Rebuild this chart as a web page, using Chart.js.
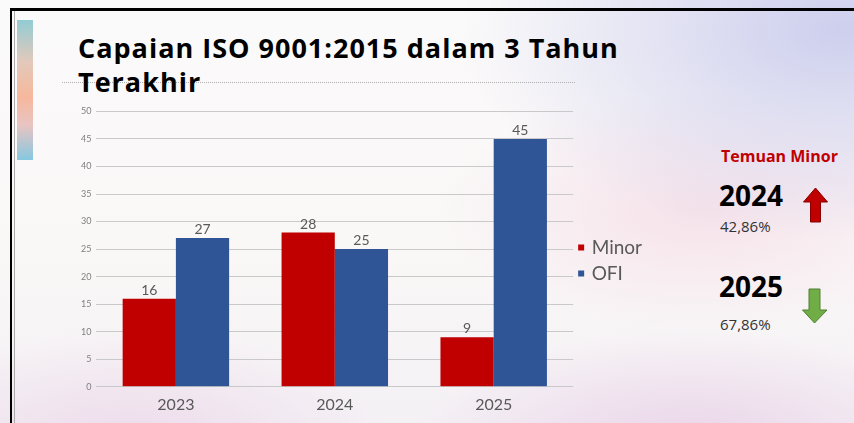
<!DOCTYPE html>
<html>
<head>
<meta charset="utf-8">
<script src="https://cdn.jsdelivr.net/npm/chart.js@4"></script>
<style>
  html, body { margin: 0; padding: 0; }
  body {
    width: 854px; height: 423px; overflow: hidden; position: relative;
    font-family: "Open Sans", sans-serif;
    background:
      radial-gradient(ellipse 260px 110px at 130px 440px, rgba(232,205,228,0.6), rgba(255,255,255,0) 100%),
      radial-gradient(ellipse 280px 110px at 690px 440px, rgba(228,195,225,0.6), rgba(255,255,255,0) 100%),
      radial-gradient(ellipse 380px 210px at 840px 30px, rgba(200,202,236,0.9), rgba(255,255,255,0) 100%),
      radial-gradient(ellipse 260px 120px at 700px 210px, rgba(242,208,222,0.55), rgba(255,255,255,0) 100%),
      linear-gradient(180deg, #fbfafa 0%, #faf7f7 60%, #f4f1f5 100%);
  }
  .frame-top { position: absolute; left: 10px; top: 8px; width: 844px; height: 3px; background: #000; }
  .frame-left { position: absolute; left: 10px; top: 8px; width: 2px; height: 415px; background: #000; }
  .frame-left2 { position: absolute; left: 14px; top: 11px; width: 1px; height: 412px; background: #aaa; }
  .accent {
    position: absolute; left: 17px; top: 20px; width: 16px; height: 140px;
    background: linear-gradient(180deg, #92ccd4 0%, #e3c9bb 30%, #f6b89c 55%, #e9c4c2 75%, #86c8e0 100%);
  }
  .title-rule { position: absolute; left: 62px; top: 82px; width: 513px; border-top: 1px dotted #b0b0b0; }
  .title {
    position: absolute; left: 78px; top: 31px; font-size: 27px; font-weight: 700;
    line-height: 34px; color: #000; letter-spacing: 1px;
  }
  #wrap { position: absolute; left: 76px; top: 101px; width: 576px; height: 313px; }
  .side { position: absolute; font-family: "Open Sans", sans-serif; white-space: nowrap; }
  .temuan { left: 721px; top: 145px; font-size: 16px; font-weight: 700; color: #c00000; }
  .year { font-size: 28px; font-weight: 700; color: #000; }
  .pct { font-size: 15px; color: #333; }
  svg.arrow { position: absolute; }
</style>
</head>
<body>
<div class="frame-top"></div>
<div class="frame-left"></div>
<div class="frame-left2"></div>
<div class="accent"></div>
<div class="title-rule"></div>
<div class="title">Capaian ISO 9001:2015 dalam 3 Tahun<br>Terakhir</div>
<div id="wrap"><canvas id="isoChart"></canvas></div>

<div class="side temuan">Temuan Minor</div>
<div class="side year" style="left:719px; top:176px;">2024</div>
<div class="side pct" style="left:720px; top:216px;">42,86%</div>
<div class="side year" style="left:719px; top:267px;">2025</div>
<div class="side pct" style="left:720px; top:314px;">67,86%</div>

<svg class="arrow" style="left:802px; top:187px;" width="27" height="37" viewBox="0 0 27 37">
  <polygon points="13.5,1 25.5,15 18.5,15 18.5,35 8.5,35 8.5,15 1.5,15" fill="#c00000" stroke="#8a0000" stroke-width="1"/>
</svg>
<svg class="arrow" style="left:802px; top:288px;" width="27" height="37" viewBox="0 0 27 37">
  <polygon points="7,1 18,1 18,22 25,22 12.5,35 0.5,22 7,22" fill="#70ad47" stroke="#507e32" stroke-width="1"/>
</svg>

<script>
// data
const years = ['2023', '2024', '2025'];
const minorValues = [16, 28, 9];
const ofiValues = [27, 25, 45];
const yTicks = [0, 5, 10, 15, 20, 25, 30, 35, 40, 45, 50];

// angka di atas batang
const barValues = {
  id: 'barValues',
  afterDatasetsDraw(chart) {
    const ctx = chart.ctx;
    ctx.save();
    ctx.font = '14px Lato, "Open Sans", sans-serif';
    ctx.fillStyle = '#595959';
    ctx.textAlign = 'center';
    ctx.textBaseline = 'alphabetic';
    chart.data.datasets.forEach(function(ds, i) {
      chart.getDatasetMeta(i).data.forEach(function(bar, j) {
        ctx.fillText(ds.data[j], bar.x, bar.y - 4);
      });
    });
    ctx.restore();
  }
};

document.addEventListener('DOMContentLoaded', function() {
  const ctx = document.getElementById('isoChart').getContext('2d');
  new Chart(ctx, {
    type: 'bar',
    data: {
      labels: years,
      datasets: [
        {
          label: 'Minor',
          data: minorValues,
          backgroundColor: '#c00000',
          borderWidth: 0
        },
        {
          label: 'OFI',
          data: ofiValues,
          backgroundColor: '#2f5597',
          borderWidth: 0
        }
      ]
    },
    options: {
      responsive: true,
      maintainAspectRatio: false,
      animation: false,
      layout: { padding: { top: 6, right: 0, left: 0, bottom: 0 } },
      datasets: {
        bar: { categoryPercentage: 0.67, barPercentage: 1.0 }
      },
      plugins: {
        tooltip: { enabled: false },
        legend: {
          position: 'right',
          labels: {
            usePointStyle: true,
            pointStyle: 'rect',
            boxWidth: 2,
            boxHeight: 6,
            padding: 7,
            color: '#595959',
            font: { family: 'Lato, "Open Sans", sans-serif', size: 19 }
          }
        }
      },
      scales: {
        x: {
          grid: { display: false },
          border: { display: false },
          ticks: {
            color: '#595959',
            padding: 0,
            font: { family: 'Lato, "Open Sans", sans-serif', size: 16 }
          }
        },
        y: {
          min: 0,
          max: 50,
          afterBuildTicks(axis) {
            axis.ticks = yTicks.map(function(v) { return { value: v }; });
          },
          grid: { color: '#c9c9c9', lineWidth: 1, drawTicks: false },
          border: { display: false },
          ticks: {
            color: '#7f7f7f',
            padding: 5,
            font: { family: 'Lato, "Open Sans", sans-serif', size: 9 }
          }
        }
      }
    },
    plugins: [barValues]
  });
});
</script>
</body>
</html>
